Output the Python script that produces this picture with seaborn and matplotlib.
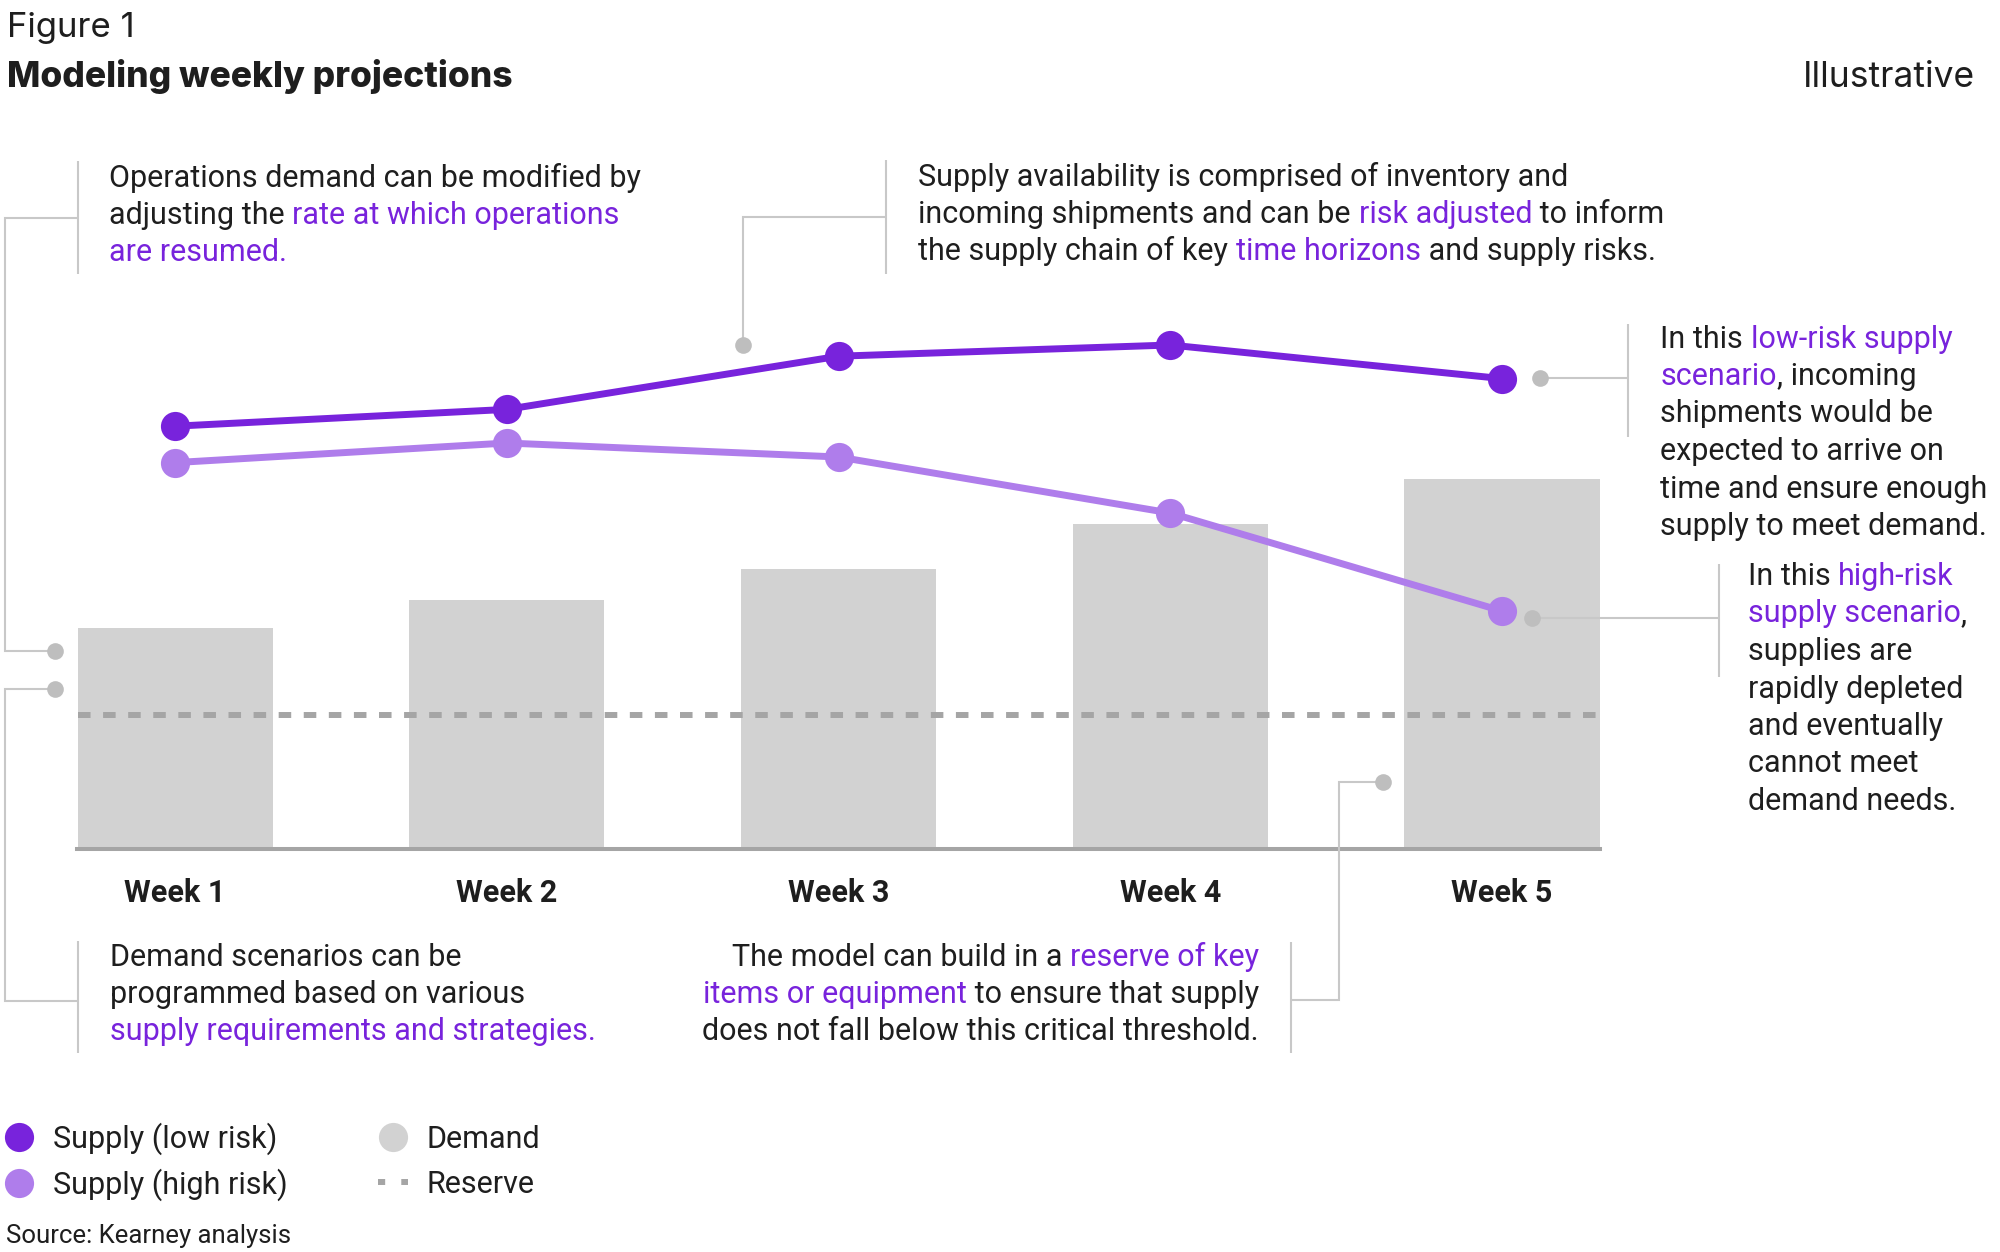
import matplotlib
matplotlib.use('Agg')
import matplotlib.pyplot as plt
from matplotlib.lines import Line2D
from matplotlib.font_manager import FontProperties
import pandas as pd
import seaborn as sns

# ---------------- data ----------------
weeks = ['Week 1', 'Week 2', 'Week 3', 'Week 4', 'Week 5']
demand = [39.5, 44.5, 50, 58, 66]
supply_low = [75.5, 78.5, 88, 90, 84]
supply_high = [69, 72.5, 70, 60, 42.5]
reserve = 24

legend_labels = ['Supply (low risk)', 'Supply (high risk)', 'Demand', 'Reserve']

# ---------------- style ----------------
PURPLE = '#7823DC'
LIGHT = '#AF7DEB'
BAR = '#D2D2D2'
RES = '#A5A5A5'
CONN = '#C8C8C8'
DOT = '#BEBEBE'
INK = '#1E1E1E'

sns.set_theme(style='white')
FAM = ['Roboto', 'DejaVu Sans']
TFAM = ['Inter', 'Roboto', 'DejaVu Sans']
plt.rcParams['font.family'] = FAM

W, H = 2000, 1252
fig = plt.figure(figsize=(20, 12.52), dpi=100)
fig.patch.set_facecolor('white')


def fx(x):
    return x / W


def fy(y):
    return 1 - y / H


ax = fig.add_axes([fx(77.5), fy(849), 1522 / W, 560 / H])
ax.patch.set_alpha(0)

df = pd.DataFrame({'week': weeks, 'demand': demand,
                   'low': supply_low, 'high': supply_high})

sns.barplot(data=df, x='week', y='demand', color=BAR, saturation=1,
            width=0.588, linewidth=0, ax=ax, zorder=1)
ax.axhline(reserve, color=RES, lw=4.3, ls=(0, (2.1, 2.1)), zorder=2)
sns.pointplot(data=df, x='week', y='high', color=LIGHT, markers='o',
              markersize=21, markeredgewidth=0, linewidth=5,
              errorbar=None, ax=ax, zorder=3)
sns.pointplot(data=df, x='week', y='low', color=PURPLE, markers='o',
              markersize=21, markeredgewidth=0, linewidth=5,
              errorbar=None, ax=ax, zorder=4)

for ln in ax.lines:
    ln.set_clip_on(False)

ax.set_xlim(-0.294, 4.294)
ax.set_ylim(0, 100)
ax.set_xlabel('')
ax.set_ylabel('')
ax.set_yticks([])
ax.set_xticks(range(len(weeks)), weeks, fontsize=22, fontweight='bold', color=INK)
ax.tick_params(axis='x', length=0, pad=21)
for s in ['left', 'right', 'top']:
    ax.spines[s].set_visible(False)
ax.spines['bottom'].set_color(RES)
ax.spines['bottom'].set_linewidth(2.9)
ax.spines['bottom'].set_zorder(2.5)

# ---------------- titles ----------------
fig.text(fx(7), fy(36.7), 'Figure 1', fontsize=25, color=INK, va='baseline',
         family=TFAM)
fig.text(fx(7), fy(87.3), 'Modeling weekly projections', fontsize=25.5,
         fontweight=800, color=INK, va='baseline', family=TFAM)
fig.text(fx(1974.5), fy(87.3), 'Illustrative', fontsize=25.5, color=INK,
         va='baseline', ha='right', family=TFAM)
fig.text(fx(6), fy(1243), 'Source: Kearney analysis', fontsize=18.5,
         color=INK, va='baseline')

# ---------------- rich annotations ----------------
renderer = fig.canvas.get_renderer()
FP = FontProperties(family=FAM, size=22)


def tw(s):
    if not s:
        return 0.0
    w, h, d = renderer.get_text_width_height_descent(s, FP, ismath=False)
    return w


def rich(x0, y0, lines, step=37.2, align='left'):
    for i, line in enumerate(lines):
        yb = y0 + i * step
        full = ''.join(t for t, c in line)
        start = x0 if align == 'left' else x0 - tw(full)
        prefix = ''
        for txt, col in line:
            off = 0.0 if not prefix else tw(prefix + txt) - tw(txt)
            fig.text(fx(start + off), fy(yb), txt, fontproperties=FP,
                     color=col, va='baseline', ha='left')
            prefix += txt


ann1 = [[('Operations demand can be modified by', INK)],
        [('adjusting the ', INK), ('rate at which operations', PURPLE)],
        [('are resumed.', PURPLE)]]
ann2 = [[('Supply availability is comprised of inventory and', INK)],
        [('incoming shipments and can be ', INK), ('risk adjusted', PURPLE),
         (' to inform', INK)],
        [('the supply chain of key ', INK), ('time horizons', PURPLE),
         (' and supply risks.', INK)]]
ann3 = [[('In this ', INK), ('low-risk supply', PURPLE)],
        [('scenario', PURPLE), (', incoming', INK)],
        [('shipments would be', INK)],
        [('expected to arrive on', INK)],
        [('time and ensure enough', INK)],
        [('supply to meet demand.', INK)]]
ann4 = [[('In this ', INK), ('high-risk', PURPLE)],
        [('supply scenario', PURPLE), (',', INK)],
        [('supplies are', INK)],
        [('rapidly depleted', INK)],
        [('and eventually', INK)],
        [('cannot meet', INK)],
        [('demand needs.', INK)]]
ann5 = [[('Demand scenarios can be', INK)],
        [('programmed based on various', INK)],
        [('supply requirements and strategies.', PURPLE)]]
ann6 = [[('The model can build in a ', INK), ('reserve of key', PURPLE)],
        [('items or equipment', PURPLE), (' to ensure that supply', INK)],
        [('does not fall below this critical threshold.', INK)]]

rich(109, 187, ann1)
rich(918.5, 186, ann2)
rich(1660.5, 347.5, ann3, step=37.5)
rich(1748, 585, ann4, step=37.5)
rich(110, 966, ann5)
rich(1259, 966, ann6, align='right')

# ---------------- leader lines ----------------


def fl(xs, ys):
    fig.add_artist(Line2D([fx(x) for x in xs], [fy(y) for y in ys],
                          transform=fig.transFigure, color=CONN, lw=1.5,
                          solid_capstyle='butt', solid_joinstyle='miter',
                          zorder=5))


def dot(x, y):
    fig.add_artist(Line2D([fx(x)], [fy(y)], transform=fig.transFigure,
                          marker='o', ms=12, mfc=DOT, mec=DOT, mew=0,
                          ls='none', zorder=6))


# annotation 1
fl([78, 78], [161, 274])
fl([78, 5, 5, 55], [218, 218, 651, 651])
dot(55, 651)
# annotation 5
fl([77.5, 77.5], [941, 1053])
fl([77.5, 5, 5, 55], [1001, 1001, 689, 689])
dot(55, 689)
# annotation 2
fl([886, 886], [160, 274])
fl([886, 743, 743], [217, 217, 345])
dot(743, 345)
# annotation 3
fl([1628, 1628], [324, 437])
fl([1628, 1540], [378, 378])
dot(1540, 378)
# annotation 4
fl([1719, 1719], [564, 677])
fl([1719, 1532], [618, 618])
dot(1532, 618)
# annotation 6
fl([1291, 1291], [942, 1053])
fl([1291, 1339, 1339, 1383], [1000, 1000, 782, 782])
dot(1383, 782)

# ---------------- legend ----------------
h_low = Line2D([], [], marker='o', ls='none', ms=21, mfc=PURPLE, mec=PURPLE, mew=0)
h_high = Line2D([], [], marker='o', ls='none', ms=21, mfc=LIGHT, mec=LIGHT, mew=0)
h_dem = Line2D([], [], marker='o', ls='none', ms=21, mfc=BAR, mec=BAR, mew=0)
h_res = Line2D([], [], color=RES, lw=4.3, ls=(0, (1.2, 2.7)))

common = dict(loc='center left', frameon=False, fontsize=22, labelcolor=INK,
              handlelength=1.0, handletextpad=0.587, borderpad=0,
              borderaxespad=0)
entries = [(h_low, legend_labels[0], 4.2, 1139),
           (h_high, legend_labels[1], 4.2, 1184.5),
           (h_dem, legend_labels[2], 377.7, 1139),
           (h_res, legend_labels[3], 377.7, 1184.5)]
for h, lab, lx, ly in entries:
    lg = fig.legend([h], [lab], bbox_to_anchor=(fx(lx), fy(ly)), **common)

fig.savefig('out.png', dpi=100, facecolor='white')
